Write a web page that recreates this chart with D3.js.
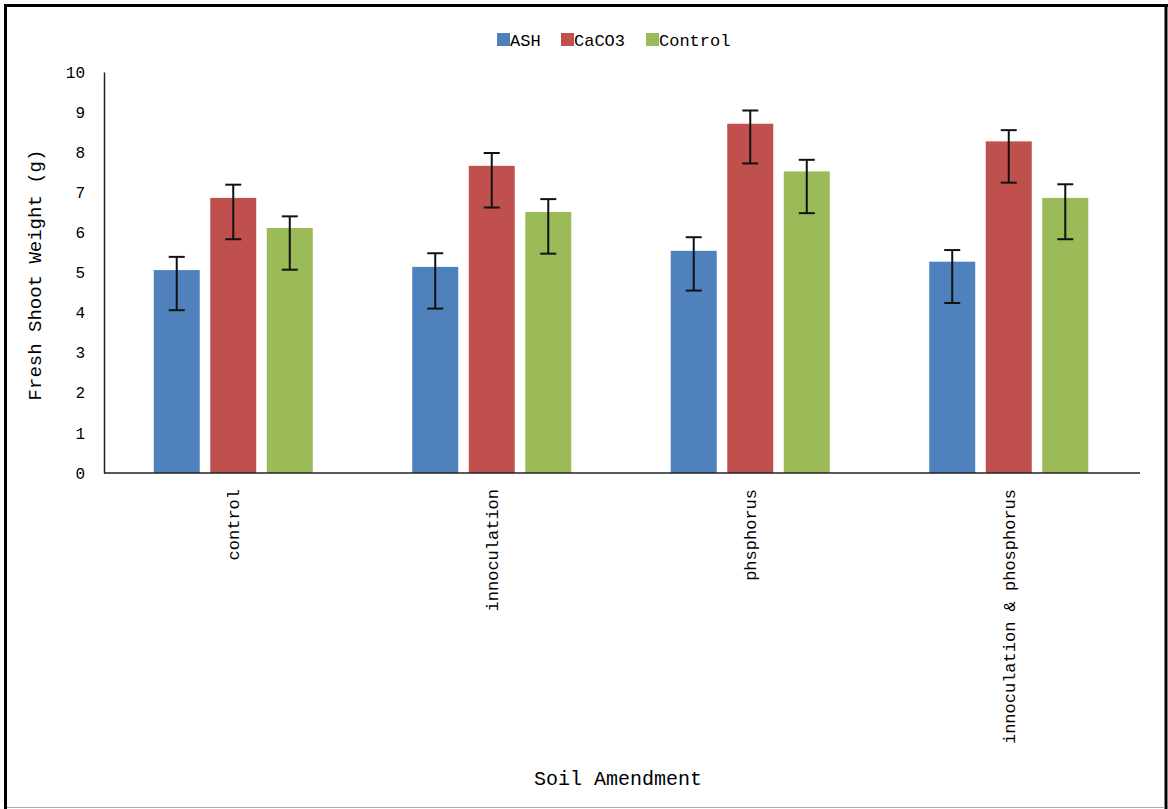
<!DOCTYPE html>
<html>
<head>
<meta charset="utf-8">
<script src="https://cdn.jsdelivr.net/npm/d3@7/dist/d3.min.js"></script>
<style>
  html, body { margin: 0; padding: 0; background: #fff; }
  svg { display: block; }
  text { font-family: "Liberation Mono", "DejaVu Sans Mono", monospace; fill: #000; }
</style>
</head>
<body>
<svg id="chart" width="1168" height="809"></svg>
<script>
const categories = ["control", "innoculation", "phsphorus", "innoculation & phosphorus"];
const seriesNames = ["ASH", "CaCO3", "Control"];
const seriesColors = ["#4F81BD", "#C0504D", "#9BBB59"];
const ashValues     = [5.06, 5.14, 5.54, 5.27];
const caco3Values   = [6.86, 7.66, 8.71, 8.27];
const controlValues = [6.11, 6.51, 7.52, 6.86];
const ashUpper      = [5.39, 5.48, 5.88, 5.56];
const ashLower      = [4.06, 4.10, 4.55, 4.24];
const caco3Upper    = [7.19, 7.98, 9.04, 8.55];
const caco3Lower    = [5.83, 6.62, 7.72, 7.24];
const controlUpper  = [6.40, 6.83, 7.81, 7.20];
const controlLower  = [5.07, 5.47, 6.48, 5.83];
const yTicks = [0, 1, 2, 3, 4, 5, 6, 7, 8, 9, 10];
const yTitle = "Fresh Shoot Weight (g)";
const xTitle = "Soil Amendment";

const values = [ashValues, caco3Values, controlValues];
const uppers = [ashUpper, caco3Upper, controlUpper];
const lowers = [ashLower, caco3Lower, controlLower];

const svg = d3.select("#chart");

// outer frame
svg.append("line").attr("x1", 5.5).attr("y1", 4).attr("x2", 5.5).attr("y2", 809).attr("stroke", "#000").attr("stroke-width", 3);
svg.append("line").attr("x1", 4).attr("y1", 5.5).attr("x2", 1168).attr("y2", 5.5).attr("stroke", "#000").attr("stroke-width", 3);
svg.append("line").attr("x1", 1166).attr("y1", 4).attr("x2", 1166).attr("y2", 809).attr("stroke", "#000").attr("stroke-width", 3);
svg.append("line").attr("x1", 7).attr("y1", 807.5).attr("x2", 1165).attr("y2", 807.5).attr("stroke", "#aaa").attr("stroke-width", 1);

const plotLeft = 104, plotRight = 1138, plotTop = 72, plotBottom = 473;

const y = d3.scaleLinear().domain([0, 10]).range([plotBottom, plotTop]);
const x0 = d3.scaleBand().domain(categories).range([plotLeft, plotRight]).padding(0);
const x1 = d3.scaleBand().domain(seriesNames).range([0, x0.bandwidth()])
  .paddingInner(0.186).paddingOuter(0.88);

// y axis
const yAxis = d3.axisLeft(y).tickValues(yTicks).tickSize(0).tickPadding(19).tickFormat(d3.format("d"));
const yg = svg.append("g").attr("transform", `translate(${plotLeft},0)`).call(yAxis);
yg.select(".domain").attr("stroke", "#222").attr("stroke-width", 1.5);
yg.selectAll("text").style("font-size", "16px").style("font-family", "'Liberation Mono', monospace").attr("fill", "#000");

// bars
const groups = svg.append("g").selectAll("g").data(categories).join("g")
  .attr("transform", d => `translate(${x0(d)},0)`);

seriesNames.forEach((s, si) => {
  groups.append("rect")
    .attr("x", x1(s))
    .attr("width", x1.bandwidth())
    .attr("y", (d, i) => y(values[si][i]))
    .attr("height", (d, i) => y(0) - y(values[si][i]))
    .attr("fill", seriesColors[si]);
});

// error bars
seriesNames.forEach((s, si) => {
  const cx = x1(s) + x1.bandwidth() / 2;
  groups.append("line")
    .attr("x1", cx).attr("x2", cx)
    .attr("y1", (d, i) => y(uppers[si][i]))
    .attr("y2", (d, i) => y(lowers[si][i]))
    .attr("stroke", "#111").attr("stroke-width", 2);
  groups.append("line")
    .attr("x1", cx - 8).attr("x2", cx + 8)
    .attr("y1", (d, i) => y(uppers[si][i]))
    .attr("y2", (d, i) => y(uppers[si][i]))
    .attr("stroke", "#111").attr("stroke-width", 2);
  groups.append("line")
    .attr("x1", cx - 8).attr("x2", cx + 8)
    .attr("y1", (d, i) => y(lowers[si][i]))
    .attr("y2", (d, i) => y(lowers[si][i]))
    .attr("stroke", "#111").attr("stroke-width", 2);
});

// x axis
const xAxis = d3.axisBottom(x0).tickSize(0).tickPadding(0);
const xg = svg.append("g").attr("transform", `translate(0,${plotBottom})`).call(xAxis);
xg.select(".domain").remove();
svg.append("line").attr("x1", plotLeft).attr("x2", 1140).attr("y1", plotBottom).attr("y2", plotBottom)
  .attr("stroke", "#222").attr("stroke-width", 1.5);
xg.selectAll("text")
  .style("font-size", "17px").style("font-family", "'Liberation Mono', monospace")
  .attr("text-anchor", "end")
  .attr("dy", "0.35em")
  .attr("transform", "translate(0,16) rotate(-90)")
  .attr("x", 0).attr("y", 0);

// axis titles
svg.append("text")
  .attr("transform", "translate(41,275) rotate(-90)")
  .attr("text-anchor", "middle")
  .style("font-size", "19px")
  .text(yTitle);
svg.append("text")
  .attr("x", 618).attr("y", 785)
  .attr("text-anchor", "middle")
  .style("font-size", "20px")
  .text(xTitle);

// legend
const legendX = [497, 561, 646];
const legend = svg.append("g");
seriesNames.forEach((s, i) => {
  legend.append("rect").attr("x", legendX[i]).attr("y", 33).attr("width", 13).attr("height", 13).attr("fill", seriesColors[i]);
  legend.append("text").attr("x", legendX[i] + 13).attr("y", 45.5)
    .style("font-size", "17px").text(s);
});
</script>
</body>
</html>
